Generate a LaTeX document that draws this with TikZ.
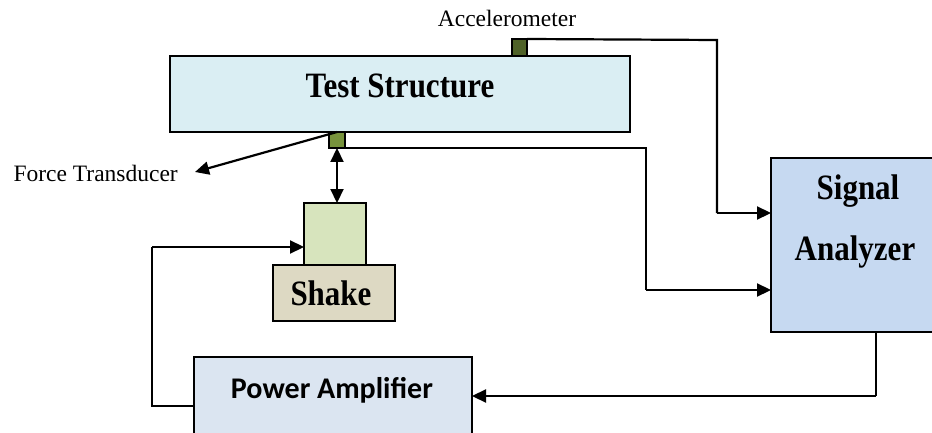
\documentclass[tikz,border=0pt]{standalone}
\usepackage{fontspec}
\usepackage{graphicx}
\usetikzlibrary{arrows.meta,calc}
\newfontfamily\tnrfont{Liberation Serif}
\newfontfamily\calfont{Carlito}
\definecolor{tsfill}{HTML}{DAEEF3}
\definecolor{safill}{HTML}{C6D9F1}
\definecolor{pafill}{HTML}{DBE5F1}
\definecolor{shtopfill}{HTML}{D7E4BD}
\definecolor{shfill}{HTML}{DDD9C3}
\definecolor{accfill}{HTML}{4F6228}
\definecolor{ftfill}{HTML}{77933C}
\tikzset{
  box/.style={draw=black, line width=2.6pt, inner sep=0pt, outer sep=0pt},
  conn/.style={line width=2.2pt, draw=black},
  arr/.style={conn, -{Triangle[length=14pt,width=13pt]}},
  darr/.style={conn, {Triangle[length=14pt,width=13pt]}-{Triangle[length=14pt,width=13pt]}},
  btxt/.style={inner sep=0pt, anchor=base, font=\tnrfont\bfseries\fontsize{31}{31}\selectfont},
  stxt/.style={inner sep=0pt, font=\tnrfont\fontsize{23.5}{23.5}\selectfont},
  ctxt/.style={inner sep=0pt, anchor=base, font=\calfont\bfseries\fontsize{30}{30}\selectfont}
}
\begin{document}
\begin{tikzpicture}[x=1pt,y=-1pt]
\useasboundingbox (0,0) rectangle (932,433);
\clip (0,0) rectangle (932,433);
\fill[white] (0,0) rectangle (932,433);
% boxes
\node[box, fill=tsfill, minimum width=460pt, minimum height=76pt] (ts) at (400,94) {};
\node[box, fill=accfill, minimum width=15pt, minimum height=17pt] (acc) at (519.5,47.5) {};
\node[box, fill=ftfill, minimum width=16pt, minimum height=16pt] (ft) at (337,140) {};
\node[box, fill=safill, minimum width=210pt, minimum height=174pt] (sa) at (876,245) {};
\node[box, fill=shtopfill, minimum width=62pt, minimum height=62pt] (sht) at (335,234) {};
\node[box, fill=shfill, minimum width=122pt, minimum height=56pt] (sh) at (334,293) {};
\node[box, fill=pafill, minimum width=278pt, minimum height=100pt] (pa) at (333,407) {};
% texts
\node[btxt] (tstxt) at (400,98) {\scalebox{1}[1.15]{Test Structure}};
\node[btxt] (shtxt) at (331,305) {\scalebox{1}[1.15]{Shake}};
\node[btxt] (satxt1) at (858,200) {\scalebox{1}[1.15]{Signal}};
\node[btxt] (satxt2) at (855,260) {\scalebox{1}[1.15]{Analyzer}};
\node[ctxt] (patxt) at (332,398) {Power Amplifier};
\node[stxt, anchor=base] (acctxt) at (507,27) {Accelerometer};
\node[stxt, anchor=base east] (fttxt) at (178,182) {Force Transducer};
% coordinates
\coordinate (ftend) at (195,172);
\coordinate (c1) at (717,40);
\coordinate (c2) at (717,213);
\coordinate (c3) at (646,148);
\coordinate (c4) at (646,290);
\coordinate (c5) at (152,406);
\coordinate (c6) at (152,247);
\coordinate (c7) at (876,396);
% connectors
\draw[conn] (acc.north east) -- (c1) -- (c2);
\draw[arr] (c2) -- (c2 -| sa.west);
\draw[conn] (ft.south east) -- (c3) -- (c4);
\draw[arr] (c4) -- (c4 -| sa.west);
\draw[arr] (ft.north) -- (ftend);
\draw[darr] (ft.south) -- (ft.south |- sht.north);
\draw[conn] (c5 -| pa.west) -- (c5) -- (c6);
\draw[arr] (c6) -- (c6 -| sht.west);
\draw[conn] (sa.south) -- (c7);
\draw[arr] (c7) -- (c7 -| pa.east);
\end{tikzpicture}
\end{document}
